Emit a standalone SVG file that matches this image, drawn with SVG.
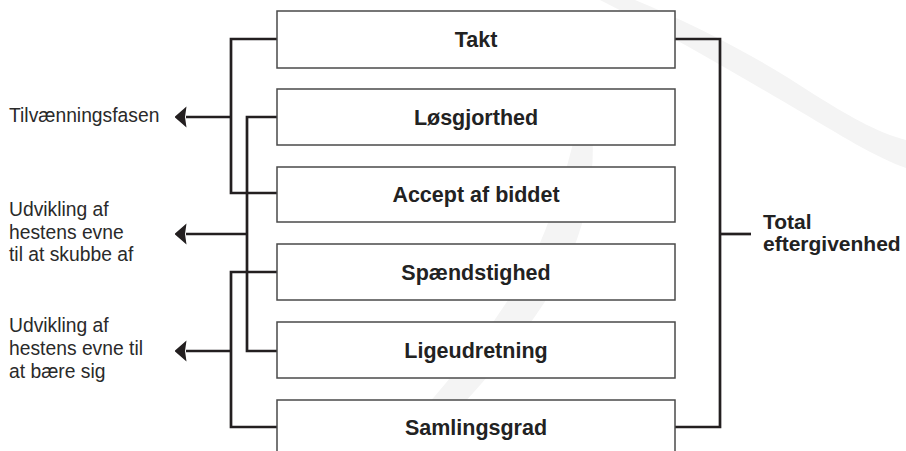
<svg xmlns="http://www.w3.org/2000/svg" width="906" height="451" viewBox="0 0 906 451">
<defs>
<style>
.box{fill:#fff;stroke:#4a4a4a;stroke-width:1.5}
.lbl{font-family:"Liberation Sans",Arial,sans-serif;font-weight:bold;font-size:21.5px;fill:#222;text-anchor:middle}
.side{font-family:"Liberation Sans",Arial,sans-serif;font-size:19.3px;fill:#2a2a2a}
.tot{font-family:"Liberation Sans",Arial,sans-serif;font-weight:bold;font-size:21px;fill:#222}
.ln{fill:none;stroke:#231f20;stroke-width:2.7;stroke-linejoin:miter;stroke-linecap:butt}
.wm{fill:#f4f4f4}
</style>
<marker id="ah" viewBox="0 0 12 22" refX="0.5" refY="11" markerWidth="12" markerHeight="22" markerUnits="userSpaceOnUse" orient="auto">
<path d="M12,11 L0,0.5 L1.5,11 L0,21.5 Z" fill="#231f20"/>
</marker>
</defs>
<rect width="906" height="451" fill="#fff"/>
<g id="watermark">
<path class="wm" d="M600,0 L635,0 C695,25 755,55 815,95 C855,120 882,134 906,140 L906,168 C878,158 848,140 808,116 C750,82 680,40 600,0 Z"/>
<path class="wm" d="M584,88 C600,140 593,200 573,250 C543,320 478,390 418,451 L386,451 C442,390 502,320 537,250 C561,195 576,140 584,88 Z"/>
</g>
<g id="connectors">
<path class="ln" d="M277,39 H231 V193 H277"/>
<path class="ln" d="M277,117 H247 V351 H277"/>
<path class="ln" d="M277,272 H231 V427 H277"/>
<path class="ln" d="M675,39 H720 V427 H675"/>
<path class="ln" d="M720,234 H751"/>
<path class="ln" d="M231,117 H186" marker-end="url(#ah)"/>
<path class="ln" d="M247,234 H186" marker-end="url(#ah)"/>
<path class="ln" d="M231,351 H186" marker-end="url(#ah)"/>
</g>
<g id="n-takt"><rect class="box" x="277" y="11" width="398" height="57"/><text class="lbl" x="476" y="47">Takt</text></g>
<g id="n-losgjorthed"><rect class="box" x="277" y="89" width="398" height="56"/><text class="lbl" x="476" y="125">Løsgjorthed</text></g>
<g id="n-accept"><rect class="box" x="277" y="167" width="398" height="55"/><text class="lbl" x="476" y="202">Accept af biddet</text></g>
<g id="n-spaendstighed"><rect class="box" x="277" y="244" width="398" height="56"/><text class="lbl" x="476" y="280">Spændstighed</text></g>
<g id="n-ligeudretning"><rect class="box" x="277" y="322" width="398" height="56"/><text class="lbl" x="476" y="358">Ligeudretning</text></g>
<g id="n-samlingsgrad"><rect class="box" x="277" y="400" width="398" height="60"/><text class="lbl" x="476" y="435">Samlingsgrad</text></g>
<g id="l-tilvaenning"><text class="side" x="9" y="122">Tilvænningsfasen</text></g>
<g id="l-skubbe"><text class="side" x="9" y="216">Udvikling af</text><text class="side" x="9" y="238.5">hestens evne</text><text class="side" x="9" y="261">til at skubbe af</text></g>
<g id="l-baere"><text class="side" x="9" y="332">Udvikling af</text><text class="side" x="9" y="355">hestens evne til</text><text class="side" x="9" y="378">at bære sig</text></g>
<g id="l-total"><text class="tot" x="763" y="229">Total</text><text class="tot" x="763" y="251">eftergivenhed</text></g>
</svg>
